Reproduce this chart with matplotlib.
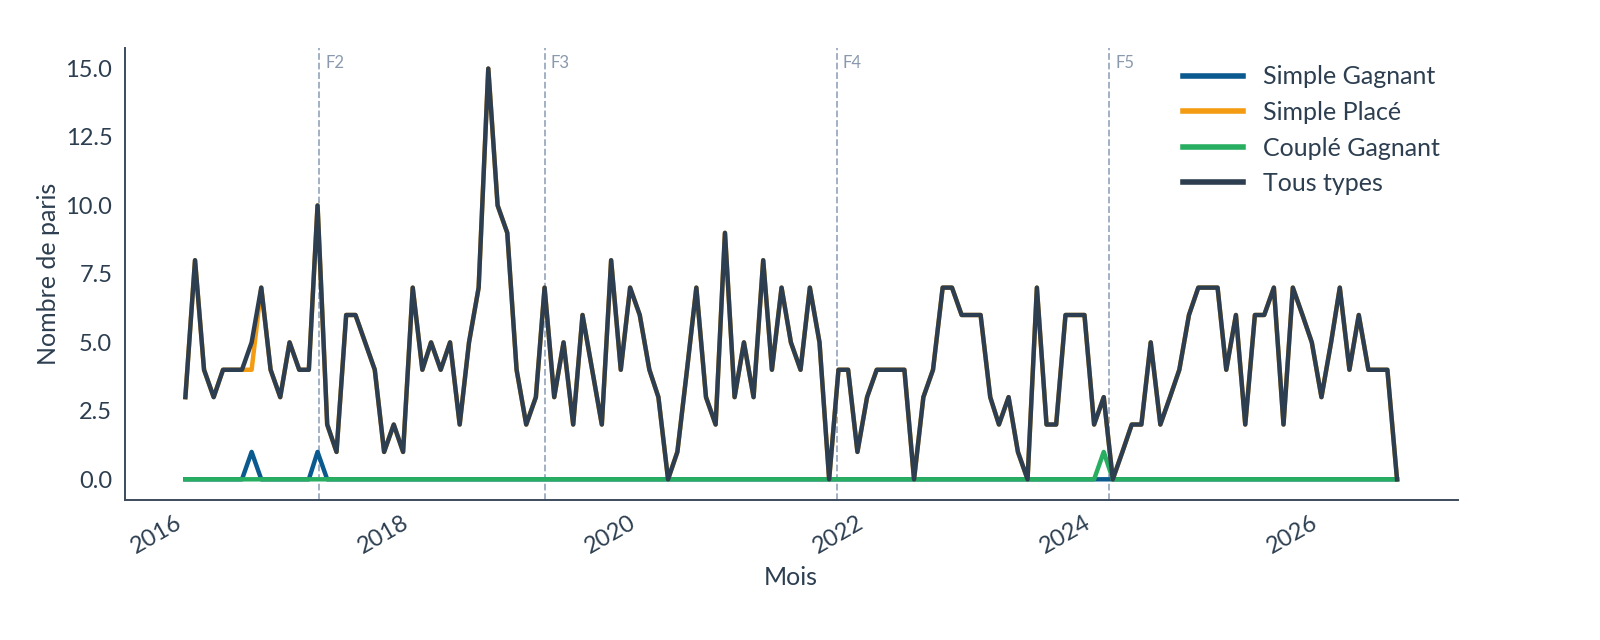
import matplotlib
matplotlib.use('Agg')
import matplotlib.pyplot as plt
import pandas as pd

# monthly counts, Jan 2016 -> Sep 2026
tous_types = [3, 8, 4, 3, 4, 4, 4, 5, 7, 4, 3, 5, 4, 4, 10, 2, 1, 6, 6, 5,
              4, 1, 2, 1, 7, 4, 5, 4, 5, 2, 5, 7, 15, 10, 9, 4, 2, 3, 7, 3,
              5, 2, 6, 4, 2, 8, 4, 7, 6, 4, 3, 0, 1, 4, 7, 3, 2, 9, 3, 5,
              3, 8, 4, 7, 5, 4, 7, 5, 0, 4, 4, 1, 3, 4, 4, 4, 4, 0, 3, 4,
              7, 7, 6, 6, 6, 3, 2, 3, 1, 0, 7, 2, 2, 6, 6, 6, 2, 3, 0, 1,
              2, 2, 5, 2, 3, 4, 6, 7, 7, 7, 4, 6, 2, 6, 6, 7, 2, 7, 6, 5,
              3, 5, 7, 4, 6, 4, 4, 4, 0]
months = pd.date_range('2016-01-01', periods=len(tous_types), freq='MS')

simple_gagnant = [0] * len(tous_types)
simple_gagnant[7] = 1
simple_gagnant[14] = 1
couple_gagnant = [0] * len(tous_types)
couple_gagnant[97] = 1
simple_place = list(tous_types)
simple_place[7] = 4

markers = ['F2', 'F3', 'F4', 'F5']
marker_dates = pd.to_datetime(['2017-03-05', '2019-03-01', '2021-09-25', '2024-02-18'])

text_col = '#2c3e50'
plt.rcParams['font.family'] = ['Lato', 'DejaVu Sans']

fig = plt.figure(figsize=(16, 6.4), dpi=100)
ax = fig.add_axes([0.078, 0.219, 0.833, 0.706])

lw = 3.2
ax.plot(months, simple_gagnant, color='#0b5a8f', lw=lw, label='Simple Gagnant')
ax.plot(months, simple_place, color='#f39c12', lw=lw, label='Simple Placé')
ax.plot(months, couple_gagnant, color='#27ae60', lw=lw, label='Couplé Gagnant')
ax.plot(months, tous_types, color='#2c3e50', lw=lw, label='Tous types')

for name, d in zip(markers, marker_dates):
  ax.axvline(d, color='#9aabbf', lw=1.3, ls='--', zorder=0)
  ax.text(d + pd.Timedelta(days=20), 0.985, name, transform=ax.get_xaxis_transform(),
          va='top', ha='left', fontsize=12, color='#8a99ad')

ax.set_yticks([0, 2.5, 5, 7.5, 10, 12.5, 15])
ax.set_yticklabels(['0.0', '2.5', '5.0', '7.5', '10.0', '12.5', '15.0'])
for s in ['top', 'right']:
  ax.spines[s].set_visible(False)
for s in ['left', 'bottom']:
  ax.spines[s].set_color('#3d4b5c')
  ax.spines[s].set_linewidth(1.4)
ax.tick_params(colors=text_col, labelsize=17, length=0, pad=9)
plt.setp(ax.get_xticklabels(), rotation=30, ha='right')
ax.set_xlabel('Mois', fontsize=18, color=text_col, labelpad=6)
ax.set_ylabel('Nombre de paris', fontsize=18, color=text_col)

leg = ax.legend(loc='upper right', frameon=False, fontsize=18, handlelength=2.4,
                labelspacing=0.5, borderaxespad=0.3)
for t in leg.get_texts():
  t.set_color(text_col)
for l in leg.get_lines():
  l.set_linewidth(4)

fig.savefig('out.png', dpi=100)
